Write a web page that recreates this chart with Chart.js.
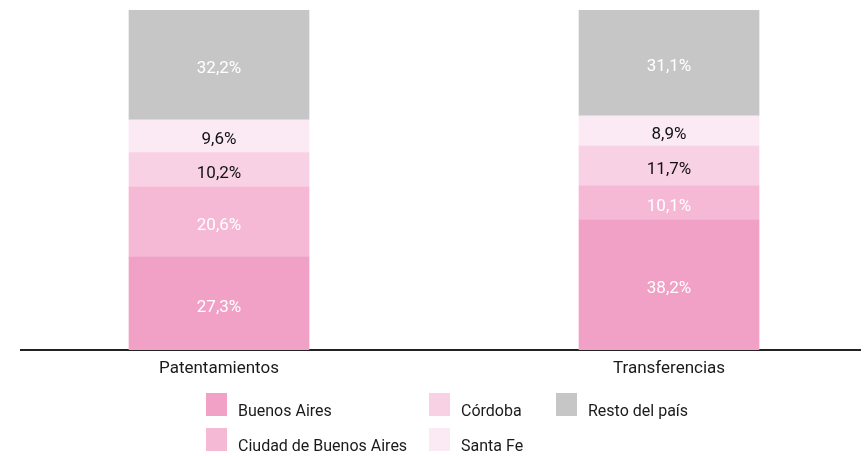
<!DOCTYPE html>
<html>
<head>
<meta charset="utf-8">
<script src="https://cdn.jsdelivr.net/npm/chart.js@4.4.1/dist/chart.umd.min.js"></script>
<style>
  body { margin: 0; background: #fff; }
  #wrap { position: relative; width: 865px; height: 456px; font-family: Roboto, "Noto Sans", sans-serif; }
  #chart { position: absolute; left: 0; top: 0; }
  .leg-box { position: absolute; width: 21px; height: 23px; }
  .leg-text { position: absolute; font-size: 16px; line-height: 16px; color: #1a1a1a; white-space: nowrap; }
</style>
</head>
<body>
<div id="wrap">
  <canvas id="chart" width="865" height="456"></canvas>
  <div id="legend"></div>
</div>
<script>
const CATEGORIES = ["Patentamientos", "Transferencias"];
const SERIES_NAMES = ["Buenos Aires", "Ciudad de Buenos Aires", "Córdoba", "Santa Fe", "Resto del país"];
const BUENOS_AIRES = [27.3, 38.2];
const CIUDAD = [20.6, 10.1];
const CORDOBA = [10.2, 11.7];
const SANTA_FE = [9.6, 8.9];
const RESTO = [32.2, 31.1];

const SERIES_VALUES = [BUENOS_AIRES, CIUDAD, CORDOBA, SANTA_FE, RESTO];
const COLORS = ["#f1a1c6", "#f5b8d5", "#f8d2e4", "#fbe9f3", "#c6c6c6"];
const LABEL_COLORS = ["#ffffff", "#ffffff", "#111111", "#111111", "#ffffff"];
// legend grid slots (column-major, like the original)
const LEGEND_SLOTS = [[206, 393], [206, 428], [429, 393], [429, 428], [556, 393]];

function fmt(v) {
  return v.toFixed(1).replace(".", ",") + "%";
}

const barLabels = {
  id: "barLabels",
  afterDatasetsDraw(chart) {
    const ctx = chart.ctx;
    ctx.save();
    ctx.font = "17px Roboto, 'Noto Sans', sans-serif";
    ctx.textAlign = "center";
    ctx.textBaseline = "middle";
    chart.data.datasets.forEach((ds, di) => {
      const meta = chart.getDatasetMeta(di);
      meta.data.forEach((el, i) => {
        ctx.fillStyle = LABEL_COLORS[di];
        ctx.fillText(fmt(ds.data[i].y), el.x, (el.y + el.base) / 2 + 4);
      });
    });
    ctx.restore();
  },
};

new Chart(document.getElementById("chart"), {
  type: "bar",
  data: {
    datasets: SERIES_NAMES.map((name, di) => ({
      label: name,
      data: SERIES_VALUES[di].map((v, i) => ({ x: i, y: v })),
      backgroundColor: COLORS[di],
      borderWidth: 0,
      barThickness: 180,
    })),
  },
  options: {
    responsive: false,
    animation: false,
    layout: { padding: { left: 21, right: 5, top: 10, bottom: 0 } },
    plugins: { legend: { display: false }, tooltip: { enabled: false } },
    scales: {
      x: {
        type: "linear",
        stacked: true,
        offset: false,
        min: -0.44,
        max: 1.4244,
        afterBuildTicks: (s) => { s.ticks = CATEGORIES.map((_, i) => ({ value: i })); },
        afterFit: (s) => { s.height = 106; },
        grid: { display: false, drawTicks: false },
        border: { display: true, color: "#222222", width: 2 },
        ticks: {
          padding: 9,
          color: "#1a1a1a",
          font: { family: "Roboto, 'Noto Sans', sans-serif", size: 17 },
          callback: (v) => CATEGORIES[v] ?? "",
          maxRotation: 0,
          autoSkip: false,
        },
      },
      y: { stacked: true, display: false, min: 0, max: 100 },
    },
  },
  plugins: [barLabels],
});

document.getElementById("legend").innerHTML = SERIES_NAMES.map((name, i) => {
  const [x, y] = LEGEND_SLOTS[i];
  return `<div class="leg-box" style="left:${x}px;top:${y}px;background:${COLORS[i]}"></div>` +
    `<div class="leg-text" style="left:${x + 32}px;top:${y + 10}px">${name}</div>`;
}).join("");
</script>
</body>
</html>
